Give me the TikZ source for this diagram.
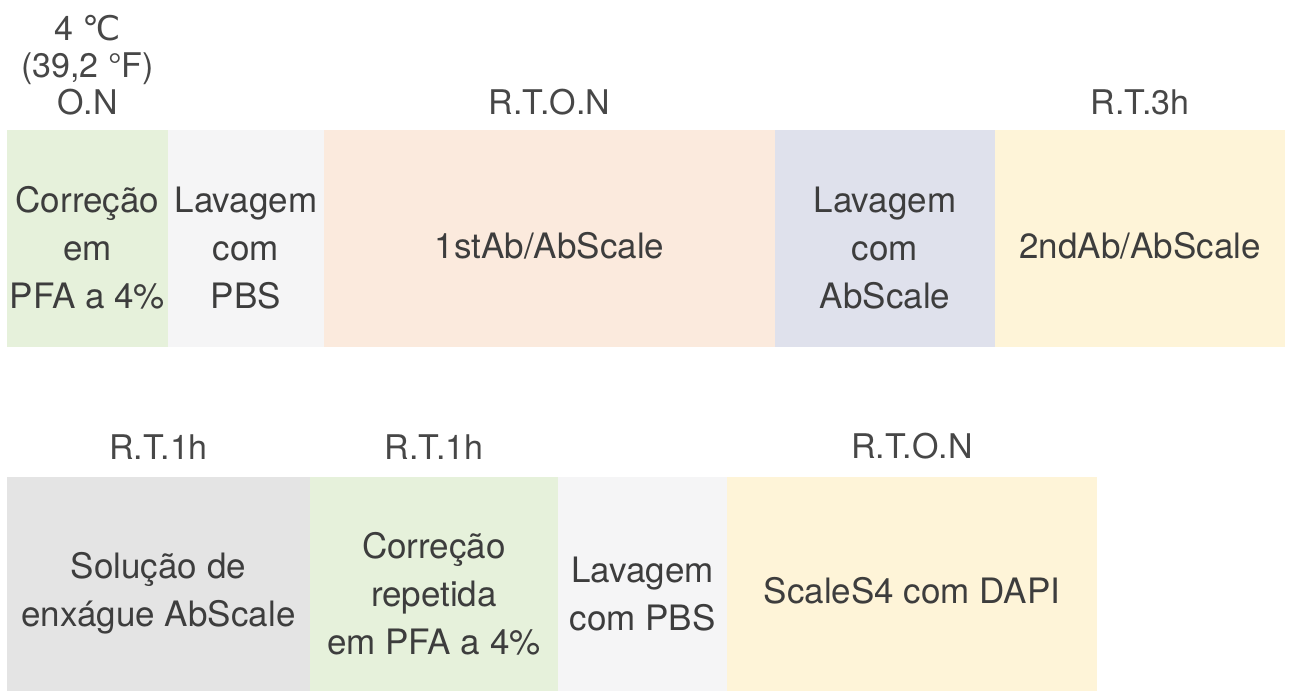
\documentclass[tikz,border=0pt]{standalone}
\usepackage{fontspec}
\setmainfont{TeX Gyre Heros}
\newfontfamily\degfont{DejaVu Sans}
\usepackage{xcolor}
\usetikzlibrary{positioning}

\definecolor{fixgreen}{HTML}{E6F1DB}
\definecolor{washwhite}{HTML}{F5F5F6}
\definecolor{abpeach}{HTML}{FBEADD}
\definecolor{abwash}{HTML}{DFE1EC}
\definecolor{abyellow}{HTML}{FEF4D8}
\definecolor{rinsegray}{HTML}{E4E4E4}
\definecolor{txtgray}{HTML}{3D3D3D}
\definecolor{lblgray}{HTML}{474747}

% taller first line, so the text sits a little low in its box
\newcommand{\padtop}{\rule{0pt}{22.5pt}}

\begin{document}
\begin{tikzpicture}[x=0.5pt, y=-0.5pt,
  box/.style={inner sep=0pt, align=center, text=txtgray,
              font=\fontsize{17.5}{24}\selectfont,
              execute at begin node={\rule{0pt}{20pt}}},
  toprow/.style={box, minimum height=108.5pt},
  botrow/.style={box, minimum height=107pt},
  lbl/.style={inner sep=0pt, align=center, text=lblgray,
              font=\fontsize{17}{18.5}\selectfont},
]
\useasboundingbox (0,0) rectangle (1289,691);
% --- first row ---
\node[toprow, fill=fixgreen,  minimum width=80.5pt]  (a1) at (87.5, 238.5) {\padtop Correção\\em\\PFA a 4\%};
\node[toprow, fill=washwhite, minimum width=78pt]    (a2) at (246,  238.5) {\padtop Lavagem\\com\\PBS};
\node[toprow, fill=abpeach,   minimum width=225.5pt] (a3) at (549.5,238.5) {1stAb/AbScale};
\node[toprow, fill=abwash,    minimum width=110pt]   (a4) at (885,  238.5) {\padtop Lavagem\\com\\AbScale};
\node[toprow, fill=abyellow,  minimum width=145pt]   (a5) at (1140, 238.5) {2ndAb/AbScale};
\node[lbl, above=7pt of a1] (ta1) {4 {\degfont ℃}\\(39,2 °F)\\O.N};
\node[lbl, above=7pt of a3] (ta3) {R.T.O.N};
\node[lbl, above=7pt of a5] (ta5) {R.T.3h};
% --- second row ---
\node[botrow, fill=rinsegray, minimum width=151.5pt] (b1) at (158.5,584) {\padtop Solução de\\enxágue AbScale};
\node[botrow, fill=fixgreen,  minimum width=124pt]   (b2) at (434,  584) {\padtop Correção\\repetida\\em PFA a 4\%};
\node[botrow, fill=washwhite, minimum width=84.5pt]  (b3) at (642.5,584) {\padtop Lavagem\\com PBS};
\node[botrow, fill=abyellow,  minimum width=185pt]   (b4) at (912,  584) {ScaleS4 com DAPI};
\node[lbl, above=8.5pt of b1] (tb1) {R.T.1h};
\node[lbl, above=8.5pt of b2] (tb2) {R.T.1h};
\node[lbl, above=8.5pt of b4] (tb4) {R.T.O.N};
\end{tikzpicture}
\end{document}
